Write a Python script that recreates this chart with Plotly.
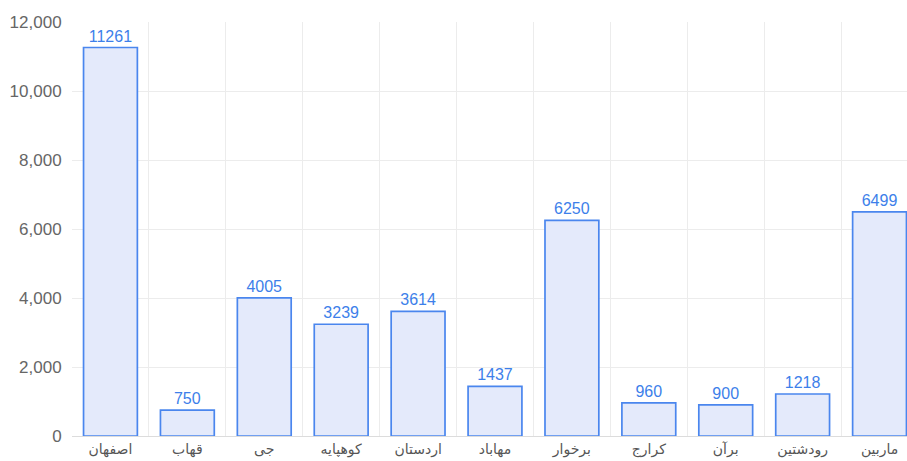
import plotly.graph_objects as go

categories = ["اصفهان", "قهاب", "جی", "کوهپایه", "اردستان", "مهاباد", "برخوار", "کرارج", "برآن", "رودشتین", "ماربین"]
values = [11261, 750, 4005, 3239, 3614, 1437, 6250, 960, 900, 1218, 6499]
y_ticks = [0, 2000, 4000, 6000, 8000, 10000, 12000]

fig = go.Figure(go.Bar(
    x=categories, y=values,
    text=[str(v) for v in values], textposition="outside",
    textfont=dict(color="#3d7fea", size=16, family="Liberation Sans, Arial, sans-serif"),
    marker=dict(color="#e4eafb", line=dict(color="#4a86ee", width=1.7)),
    width=0.70, cliponaxis=False,
))
fig.update_layout(
    width=918, height=461,
    margin=dict(l=72, r=0, t=22, b=25),
    plot_bgcolor="white", paper_bgcolor="white",
    showlegend=False, bargap=0.30,
    font=dict(family="Liberation Sans, Arial, sans-serif", color="#666"),
)
fig.update_xaxes(
    automargin=False,
    tickson="boundaries", showgrid=True, gridcolor="#ececec", gridwidth=1,
    showline=True, linecolor="#dcdcdc", ticks="outside", ticklen=2, tickcolor="rgba(0,0,0,0)",
    tickfont=dict(size=14, color="#555", family="DejaVu Sans, sans-serif"),
)
fig.update_yaxes(
    automargin=False,
    range=[0, 12000], tickvals=y_ticks, tickformat=",", showgrid=True,
    gridcolor="#ececec", zeroline=False, ticks="outside", ticklen=6, tickcolor="white",
    tickfont=dict(size=17, color="#666"),
)
fig.write_html(
    "out.html",
    config={"displayModeBar": False},
    post_script="document.body.style.margin='0';document.body.style.overflow='hidden';",
)
